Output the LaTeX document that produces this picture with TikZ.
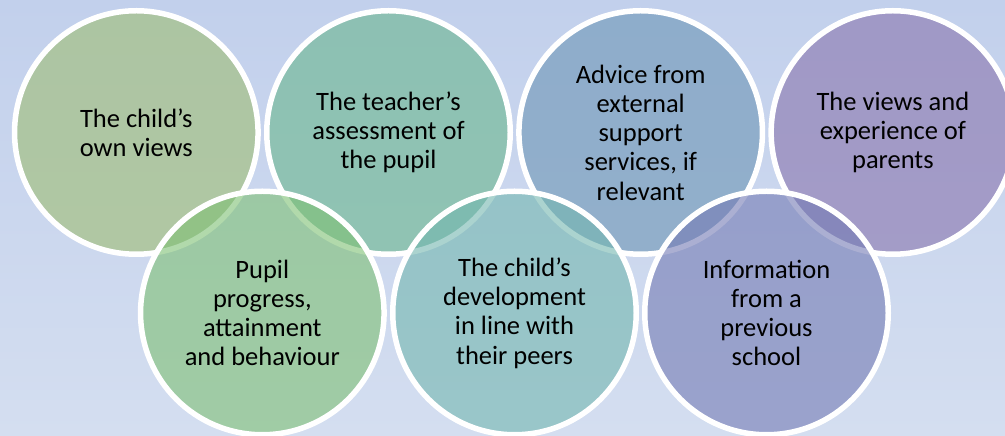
\documentclass[tikz,border=0pt]{standalone}
\usepackage{fontspec}
\setmainfont{Carlito}
\definecolor{bgtop}{RGB}{194,208,236}
\definecolor{bgbot}{RGB}{212,222,240}
\definecolor{cA}{RGB}{158,189,114}
\definecolor{cB}{RGB}{105,182,141}
\definecolor{cC}{RGB}{108,149,181}
\definecolor{cD}{RGB}{137,116,173}
\definecolor{cE}{RGB}{126,192,115}
\definecolor{cF}{RGB}{115,183,175}
\definecolor{cG}{RGB}{116,123,180}
\tikzset{
  bubble/.style={circle, draw=white, line width=5.5pt, minimum size=243.5pt,
    inner sep=0pt, fill opacity=0.6, draw opacity=1, text opacity=1,
    align=center, text=black, font=\fontsize{26.5}{29.25}\selectfont}
}
\begin{document}
\begin{tikzpicture}[x=1pt,y=1pt]
\useasboundingbox (0,0) rectangle (1005,436);
\clip (0,0) rectangle (1005,436);
\shade[top color=bgtop, bottom color=bgbot] (0,0) rectangle (1005,436);
% top row
\node[bubble, fill=cA] (own) at (136.3,303.5) {The child’s\\own views};
\node[bubble, fill=cB] (teacher) at (388.5,303.5) {The teacher’s\\assessment of\\the pupil};
\node[bubble, fill=cC] (advice) at (640.7,303.5) {Advice from\\external\\support\\services, if\\relevant};
\node[bubble, fill=cD] (parents) at (892.9,303.5) {The views and\\experience of\\parents};
% bottom row
\node[bubble, fill=cE] (progress) at (262.3,123) {Pupil\\progress,\\attainment\\and behaviour};
\node[bubble, fill=cF] (peers) at (514.5,123) {The child’s\\development\\in line with\\their peers};
\node[bubble, fill=cG] (school) at (766.5,123) {Information\\from a\\previous\\school};
\end{tikzpicture}
\end{document}
